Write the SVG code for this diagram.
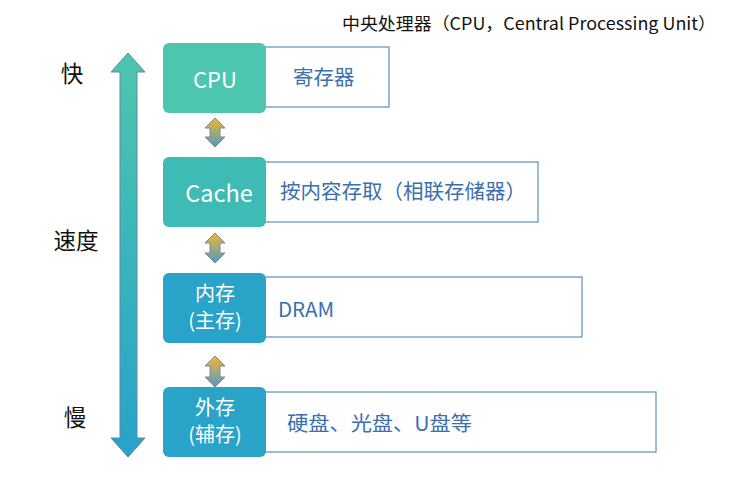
<svg xmlns="http://www.w3.org/2000/svg" width="743" height="483" viewBox="0 0 743 483">
<defs>
<linearGradient id="bigG" x1="0" y1="0" x2="0" y2="1"><stop offset="0" stop-color="#4ec6ad"/><stop offset="1" stop-color="#27a2c9"/></linearGradient>
<linearGradient id="smG" x1="0" y1="0" x2="0" y2="1"><stop offset="0" stop-color="#f5b52e"/><stop offset="1" stop-color="#4f9cc4"/></linearGradient>
<style>
.t{font-family:"Noto Sans CJK SC","Noto Sans",sans-serif}
.bx{stroke:none}
.desc{fill:#fff;stroke:#5a8fc4;stroke-width:1.2}
.dt{fill:#3b6fae;font-size:20.5px}
.nt{fill:#fff;text-anchor:middle}
.sa{fill:url(#smG);stroke:#7a8a98;stroke-width:1}
.lbl{fill:#111;font-size:22.5px;text-anchor:middle}
</style>
</defs>
<text class="t" x="342" y="30" font-size="17" fill="#111" textLength="374" lengthAdjust="spacingAndGlyphs">中央处理器（CPU，Central Processing Unit）</text>
<g id="speed">
<path d="M128,53 L145,72 L137,72 L137,438 L145,438 L128,457 L111,438 L120,438 L120,72 L111,72 Z" fill="url(#bigG)" stroke="#5a8aa8" stroke-width="1"/>
<text class="t lbl" x="72" y="82">快</text>
<text class="t lbl" x="76" y="249">速度</text>
<text class="t lbl" x="75" y="426">慢</text>
</g>
<g id="cpu">
<rect class="desc" x="262" y="47" width="127" height="60"/>
<rect class="bx" x="163" y="43" width="103" height="70" rx="6" fill="#4cc6ae"/>
<text class="t nt" x="215" y="88" font-size="22">CPU</text>
<text class="t dt" x="293" y="85">寄存器</text>
</g>
<g id="cache">
<rect class="desc" x="262" y="162" width="276" height="60"/>
<rect class="bx" x="163" y="157" width="103" height="70" rx="6" fill="#3fbbb5"/>
<text class="t nt" x="219" y="202" font-size="23.5">Cache</text>
<text class="t dt" x="280" y="199">按内容存取（相联存储器）</text>
</g>
<g id="mem">
<rect class="desc" x="262" y="277" width="320" height="60"/>
<rect class="bx" x="163" y="273" width="103" height="70" rx="6" fill="#29a3c7"/>
<text class="t nt" x="215" y="301" font-size="20">内存</text>
<text class="t nt" x="215" y="328" font-size="20">(主存)</text>
<text class="t dt" x="278" y="317">DRAM</text>
</g>
<g id="disk">
<rect class="desc" x="262" y="392" width="394" height="60"/>
<rect class="bx" x="163" y="387" width="103" height="70" rx="6" fill="#29a3c7"/>
<text class="t nt" x="215" y="415" font-size="20">外存</text>
<text class="t nt" x="215" y="442" font-size="20">(辅存)</text>
<text class="t dt" x="287" y="431" textLength="185" lengthAdjust="spacingAndGlyphs">硬盘、光盘、U盘等</text>
</g>
<g id="connectors">
<path class="sa" d="M215,118 L225,128 L220,128 L220,137 L225,137 L215,147 L205,137 L210,137 L210,128 L205,128 Z"/>
<path class="sa" d="M215,233 L225,243 L220,243 L220,253 L225,253 L215,263 L205,253 L210,253 L210,243 L205,243 Z"/>
<path class="sa" d="M215,356 L225,366 L220,366 L220,377 L225,377 L215,387 L205,377 L210,377 L210,366 L205,366 Z"/>
</g>
</svg>
